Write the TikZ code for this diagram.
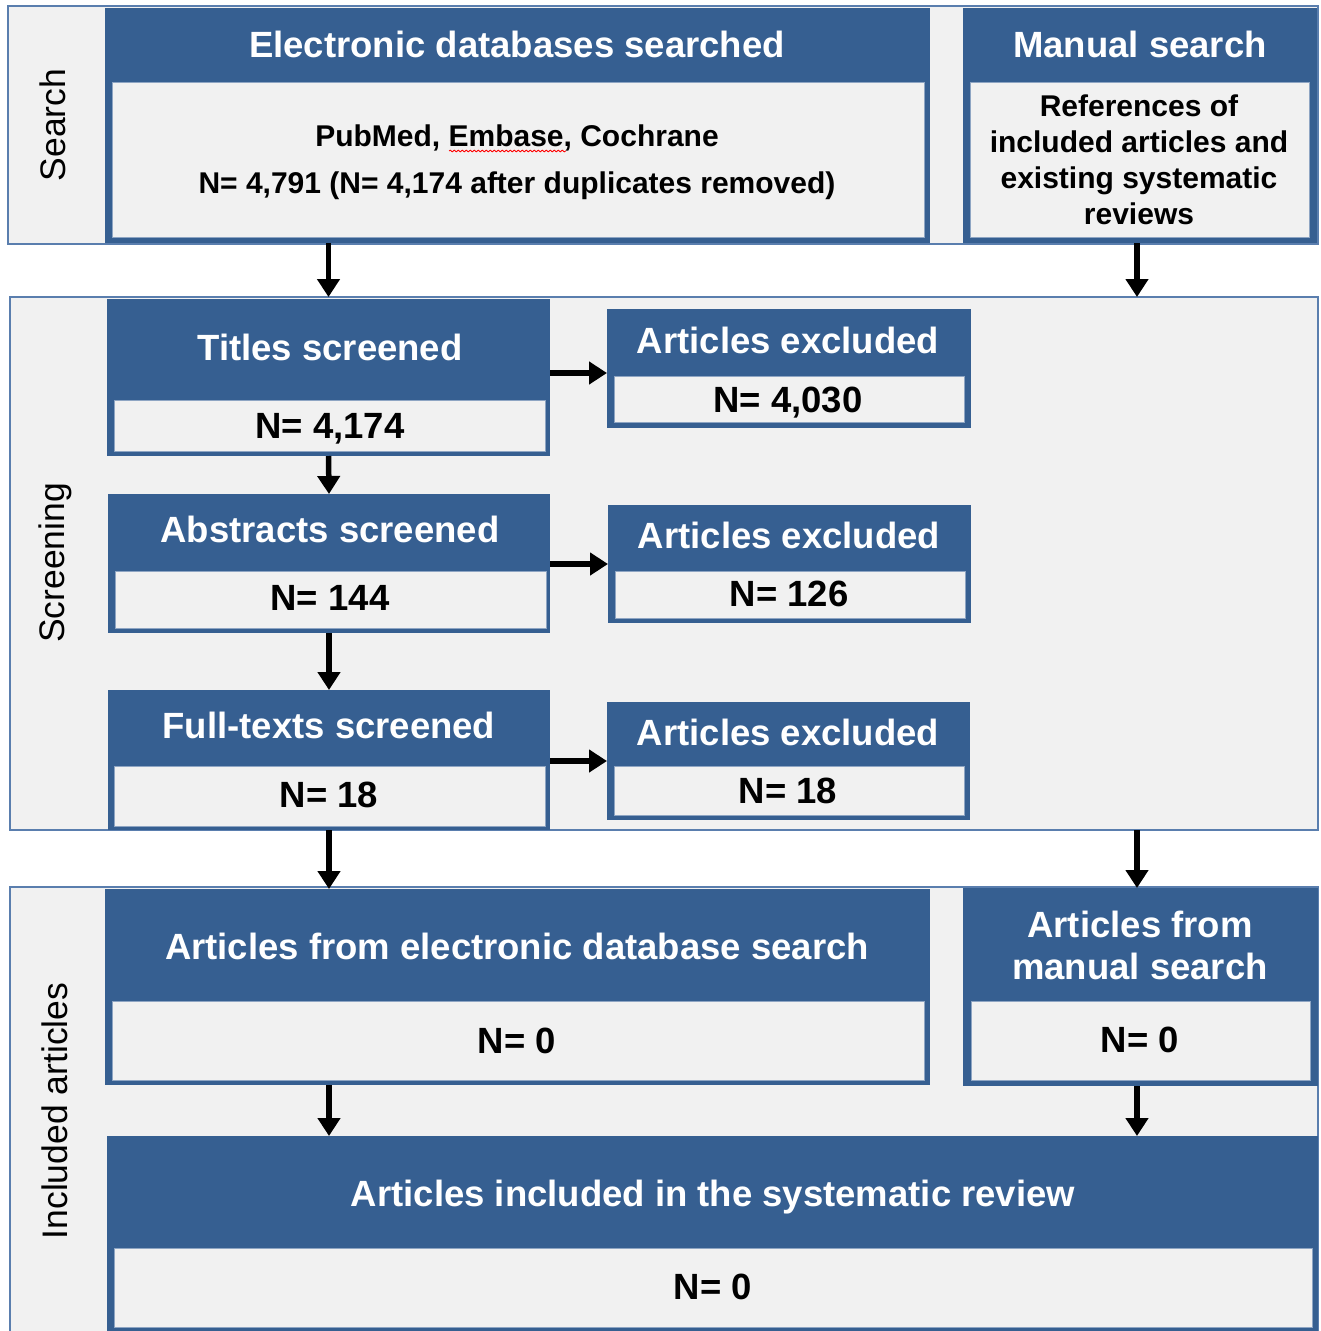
\documentclass[tikz,border=0pt]{standalone}
\usepackage{fontspec}
\setmainfont{Liberation Sans}
\usetikzlibrary{fit,arrows.meta,decorations.pathmorphing}
\definecolor{bl}{HTML}{365F91}
\definecolor{lg}{HTML}{F1F1F1}
\definecolor{ln}{HTML}{8EA5C3}
\definecolor{sl}{HTML}{5A7EAE}
\begin{document}
\begin{tikzpicture}[x=1pt,y=-1pt,
 section/.style={draw=sl, line width=2pt, fill=lg, inner sep=0pt, outer sep=0pt},
 bluebox/.style={fill=bl, inner sep=0pt, outer sep=0pt},
 inbox/.style={fill=lg, draw=ln, line width=1pt, inner sep=0pt, outer sep=0pt},
 head/.style={text=white, font=\bfseries\fontsize{36.5}{42}\selectfont, align=center, inner sep=0pt},
 body/.style={text=black, font=\bfseries\fontsize{30}{36}\selectfont, align=center, inner sep=0pt},
 num/.style={text=black, font=\bfseries\fontsize{36.5}{42}\selectfont, inner sep=0pt, text depth=0pt},
 nd/.style={text depth=0pt},
 side/.style={text=black, font=\fontsize{35.5}{40}\selectfont, rotate=90, inner sep=0pt},
 arr/.style={line width=5.5pt, -{Triangle[width=22pt,length=18pt]}}]
\fill[white] (0,0) rectangle (1321,1331);
\useasboundingbox (0,0) rectangle (1321,1331);

% ---------- Search ----------
\node[section, fit={(8,6) (1318,244)}] (search) {};
\node[bluebox, fit={(105,8) (930,243)}] (elec) {};
\node[inbox, fit={(112,82) (924,237)}] (elecin) {};
\node[bluebox, fit={(963,8) (1317,243)}] (manual) {};
\node[inbox, fit={(970,82) (1309,237)}] (manualin) {};
\node[side] (lsearch) at (53,125) {Search};
\node[head, nd] (helec) at (517,44) {Electronic databases searched};
\node[body, nd] (belec1) at (517,136) {PubMed, Embase, Cochrane};
\node[body, nd] (belec2) at (517,183) {N= 4,791 (N= 4,174 after duplicates removed)};
\draw[red, line width=0.8pt, decorate, decoration={snake, amplitude=0.9pt, segment length=4pt}] (449,151) -- (566,151);
\node[head, nd] (hmanual) at (1140,44) {Manual search};
\node[body] (bmanual) at (1139,160) {References of\\included articles and\\existing systematic\\reviews};

% ---------- Screening ----------
\node[section, fit={(10,297) (1318,830)}] (screen) {};
\node[side] (lscreen) at (55,563) {Screening};

\node[bluebox, fit={(107,299) (550,456)}] (titles) {};
\node[inbox, fit={(114,400) (545,451)}] (titlesin) {};
\node[head, nd] at (330,347) {Titles screened};
\node[num] at (330,426) {N= 4,174};

\node[bluebox, fit={(607,309) (971,428)}] (excl1) {};
\node[inbox, fit={(614,376) (964,422)}] (excl1in) {};
\node[head, nd] at (788,340) {Articles excluded};
\node[num] at (788,400) {N= 4,030};

\node[bluebox, fit={(108,494) (550,633)}] (abstracts) {};
\node[inbox, fit={(115,571) (546,628)}] (abstractsin) {};
\node[head, nd] at (330,529) {Abstracts screened};
\node[num] at (330,598) {N= 144};

\node[bluebox, fit={(608,505) (971,623)}] (excl2) {};
\node[inbox, fit={(615,571) (965,618)}] (excl2in) {};
\node[head, nd] at (789,535) {Articles excluded};
\node[num] at (789,594) {N= 126};

\node[bluebox, fit={(108,690) (550,830)}] (full) {};
\node[inbox, fit={(114,766) (545,826)}] (fullin) {};
\node[head, nd] at (329,725) {Full-texts screened};
\node[num] at (329,795) {N= 18};

\node[bluebox, fit={(607,702) (970,820)}] (excl3) {};
\node[inbox, fit={(614,766) (964,815)}] (excl3in) {};
\node[head, nd] at (788,732) {Articles excluded};
\node[num] at (788,791) {N= 18};

% ---------- Included ----------
\node[section, fit={(10,887) (1318,1340)}] (incl) {};
\node[side] (lincl) at (55,1111) {Included articles};

\node[bluebox, fit={(105,889) (930,1085)}] (elec2) {};
\node[inbox, fit={(112,1001) (924,1080)}] (elec2in) {};
\node[head, nd] at (517,946) {Articles from electronic database search};
\node[num] at (517,1041) {N= 0};

\node[bluebox, fit={(963,888) (1318,1086)}] (manual2) {};
\node[inbox, fit={(971,1001) (1310,1080)}] (manual2in) {};
\node[head] at (1140,945) {Articles from\\manual search};
\node[num] at (1140,1040) {N= 0};

\node[bluebox, fit={(107,1136) (1318,1331)}] (final) {};
\node[inbox, fit={(114,1248) (1312,1327)}] (finalin) {};
\node[head, nd] at (713,1193) {Articles included in the systematic review};
\node[num] at (713,1287) {N= 0};

% ---------- Arrows ----------
\draw[arr] (elec.south -| titles.north) -- (screen.north -| titles.north);
\draw[arr] (manual.south -| 1137,0) -- (screen.north -| 1137,0);
\draw[arr] (titles.south) -- (abstracts.north);
\draw[arr] (abstracts.south) -- (full.north);
\draw[arr] (titles.east |- 0,373) -- (excl1.west |- 0,373);
\draw[arr] (abstracts.east |- excl2.west) -- (excl2.west);
\draw[arr] (full.east |- excl3.west) -- (excl3.west);
\draw[arr] (screen.south -| full.south) -- (elec2.north -| full.south);
\draw[arr] (screen.south -| 1137,0) -- (manual2.north -| 1137,0);
\draw[arr] (elec2.south -| full.south) -- (final.north -| full.south);
\draw[arr] (manual2.south -| 1137,0) -- (final.north -| 1137,0);
\end{tikzpicture}
\end{document}
